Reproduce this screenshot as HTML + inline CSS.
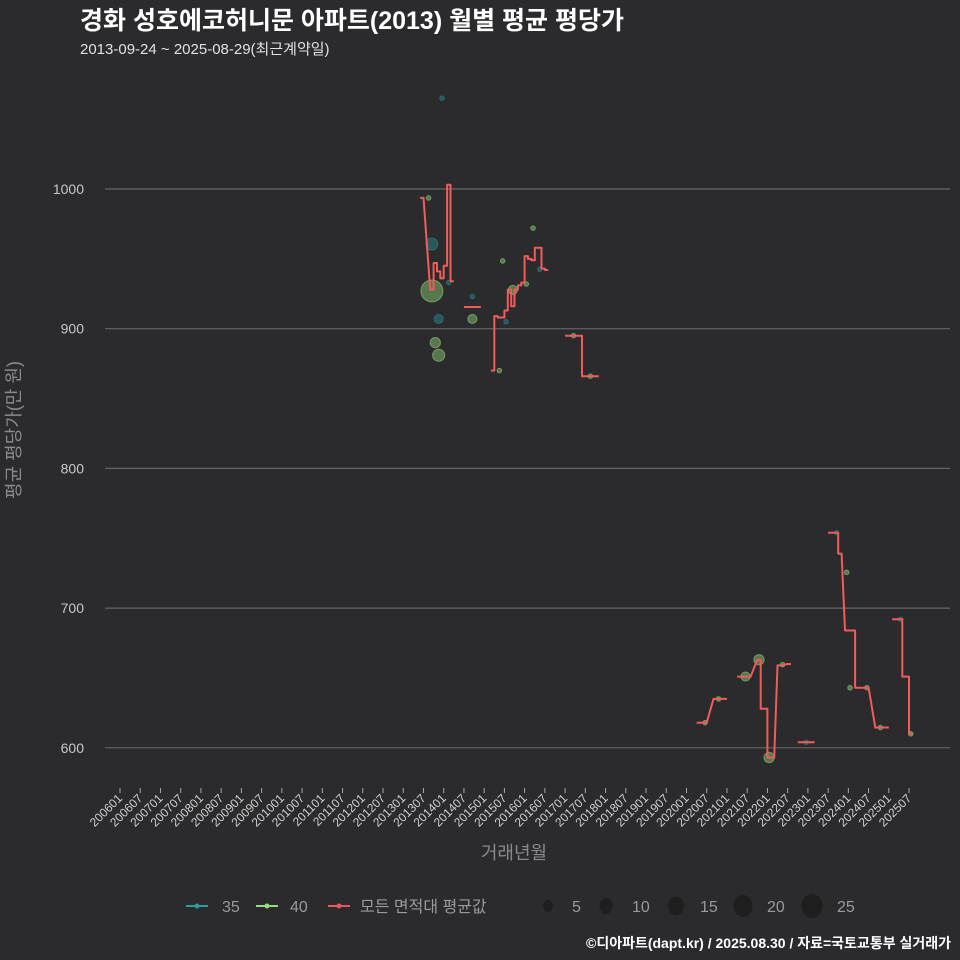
<!DOCTYPE html>
<html><head><meta charset="utf-8"><style>
html,body{margin:0;padding:0;background:#2b2b2d;}
svg{display:block;font-family:"Liberation Sans","Noto Sans CJK KR",sans-serif;}
</style></head><body>
<svg id="chart" width="960" height="960" viewBox="0 0 960 960">
<rect x="0" y="0" width="960" height="960" fill="#2b2b2d"/>
<text x="80" y="29" font-size="25" font-weight="bold" fill="#ffffff">경화 성호에코허니문 아파트(2013) 월별 평균 평당가</text>
<text x="80" y="54" font-size="15" fill="#e0e0e0">2013-09-24 ~ 2025-08-29(최근계약일)</text>
<g id="grid"></g>
<g id="yticks"></g>
<g id="xticks"></g>
<g id="bubbles"></g>
<g id="lines"></g>
<text transform="translate(20,430) rotate(-90)" text-anchor="middle" font-size="18" fill="#8a8a8a">평균 평당가(만 원)</text>
<text x="514" y="859" text-anchor="middle" font-size="18" fill="#8a8a8a">거래년월</text>
<g>
<g><line x1="186" y1="906" x2="208" y2="906" stroke="#2a9d9d" stroke-width="2"/><circle cx="197" cy="906" r="2.5" fill="#2a9d9d"/><text x="222" y="912" font-size="16" fill="#9a9a9a">35</text></g>
<g><line x1="256" y1="906" x2="278" y2="906" stroke="#8fe07a" stroke-width="2"/><circle cx="267" cy="906" r="2.5" fill="#8fe07a"/><text x="290" y="912" font-size="16" fill="#9a9a9a">40</text></g>
<g><line x1="328" y1="906" x2="350" y2="906" stroke="#e85a5a" stroke-width="2"/><circle cx="339" cy="906" r="2.5" fill="#e85a5a"/><text x="360" y="912" font-size="16" fill="#9a9a9a">모든 면적대 평균값</text></g>
<g>
<ellipse cx="548" cy="906" rx="5" ry="6" fill="#1e1e1f"/><text x="572" y="912" font-size="16" fill="#9a9a9a">5</text>
<ellipse cx="606" cy="906" rx="6.5" ry="8" fill="#1e1e1f"/><text x="632" y="912" font-size="16" fill="#9a9a9a">10</text>
<ellipse cx="676" cy="906" rx="8" ry="9.5" fill="#1e1e1f"/><text x="700" y="912" font-size="16" fill="#9a9a9a">15</text>
<ellipse cx="743" cy="906" rx="9.5" ry="11" fill="#1e1e1f"/><text x="767" y="912" font-size="16" fill="#9a9a9a">20</text>
<ellipse cx="812" cy="906" rx="10.5" ry="12" fill="#1e1e1f"/><text x="837" y="912" font-size="16" fill="#9a9a9a">25</text>
</g>
</g>
<text x="951" y="948" text-anchor="end" font-size="14" font-weight="bold" fill="#ffffff">©디아파트(dapt.kr) / 2025.08.30 / 자료=국토교통부 실거래가</text>
</svg>
<script>
const yTickValues=[600,700,800,900,1000];
const xTickLabels=["200601","200607","200701","200707","200801","200807","200901","200907","201001","201007","201101","201107","201201","201207","201301","201307","201401","201407","201501","201507","201601","201607","201701","201707","201801","201807","201901","201907","202001","202007","202101","202107","202201","202207","202301","202307","202401","202407","202501","202507"];
const lineMonths=["201306","201309","201310","201311","201312","201401","201402","201403",null,
"201407","201411",null,
"201503","201504","201505","201506","201507","201508","201509","201510","201511","201512","201601","201602","201603","201604","201605","201606","201607",null,
"201701","201705","201706","201710",null,
"202004","202006","202009","202012",null,
"202104","202107","202110","202111","202112","202201","202202","202204","202207",null,
"202210","202302",null,
"202307","202309","202310","202312","202402","202403","202406","202409","202412",null,
"202502","202504","202505","202506","202507"];
const lineValues=[993.6,928,947,941,936,945,1003,934,null,
915.5,915.5,null,
870,909,908,908,913,928,916,928,931,933,952,950,949,958,958,943,942,null,
895,895,866,866,null,
618,618,635,635,null,
651,651,663,628,628,593,593,659,660,null,
604,604,null,
754,754,739,684,684,643,643,614.5,614.5,null,
692,692,651,651,610];
const bubbleMonths=["201312","201308","201309","201309","201402","201409","201409","201311","201310","201311","201506","201603","201507","201509","201601","201605","201505","201703","201708","202006","202010","202106","202110","202201","202205","202212","202309","202312","202401","202406","202410","202504","202507"];
const bubbleValues=[1065,993.6,960.6,927,933,923,907,907,890,881,948.5,972,905,927.7,932,942.5,870,895,866,618,635,651,663,593,659.5,604,754,725.6,643,643,614.5,692,610];
const bubbleAreas=["35","40","35","40","35","35","40","35","40","40","40","40","35","40","40","35","40","40","40","40","40","40","40","40","40","35","35","40","40","40","40","35","40"];
const bubbleCounts=[1,1,7,23,1,1,4,4,5,7,1,1,1,4,1,1,1,1,1,1,1,4,5,5,1,1,1,1,1,1,1,1,1];

const NS="http://www.w3.org/2000/svg";
const MW=3.372;
function monthIndex(s){return (parseInt(s.slice(0,4),10)-2006)*12+parseInt(s.slice(4,6),10)-1;}
function xScale(s){return 120+(monthIndex(s)+0.5)*MW;}
function xTick(s){return 120+monthIndex(s)*MW;}
function yScale(v){return 189+(1000-v)*1.397;}
function mk(tag,attrs,parent){const e=document.createElementNS(NS,tag);for(const k in attrs)e.setAttribute(k,attrs[k]);parent.appendChild(e);return e;}

const grid=document.getElementById('grid'),yt=document.getElementById('yticks'),xt=document.getElementById('xticks');
yTickValues.forEach(v=>{
  const l=mk('line',{x1:105,x2:950,y1:yScale(v),y2:yScale(v),stroke:'#666',"stroke-width":1.2},grid);
  
  
  const t=mk('text',{x:84,y:yScale(v)+5,"text-anchor":"end","font-size":14,fill:'#c8c8c8'},yt);
  t.textContent=v;
  
  
});
xTickLabels.forEach(s=>{
  const x=xTick(s);
  const tk=mk('line',{x1:x,x2:x,y1:788,y2:793,stroke:'#aaa',"stroke-width":1},xt);
  
  
  const t=mk('text',{x:0,y:0,"text-anchor":"end","font-size":12,fill:'#d0d0d0',transform:`translate(${x+3},${799}) rotate(-45)`},xt);
  t.textContent=s;
  
  
});
const bg=document.getElementById('bubbles');
bubbleMonths.forEach((m,i)=>{
  const teal=bubbleAreas[i]==="35";
  const c=mk('circle',{cx:xScale(m),cy:yScale(bubbleValues[i]),r:2.3*Math.sqrt(bubbleCounts[i]),
    fill:teal?'#2a8f96':'#8fd878',"fill-opacity":0.45,stroke:teal?'#2a8f96':'#a8e090',"stroke-opacity":0.5,"stroke-width":1},bg);
  
  
});
const lg=document.getElementById('lines');
let pts=[];
function flush(){ if(pts.length){const p=mk('polyline',{points:pts.join(' '),fill:'none',stroke:'#f05c5c',"stroke-width":2,"stroke-linejoin":"round"},lg);
  
  } pts=[];}
lineMonths.forEach((m,i)=>{
  if(m===null||lineValues[i]===null){flush();return;}
  const x=xScale(m),y=yScale(lineValues[i]).toFixed(1);
  pts.push((x-MW/2).toFixed(1)+','+y);
  pts.push((x+MW/2).toFixed(1)+','+y);
});
flush();
</script>
</body></html>
